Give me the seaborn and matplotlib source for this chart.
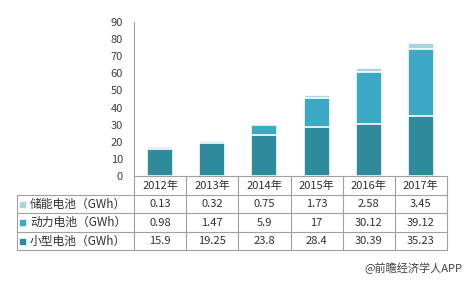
import matplotlib
matplotlib.use("Agg")
import matplotlib.pyplot as plt
import seaborn as sns
import pandas as pd
import numpy as np
from matplotlib.lines import Line2D
from matplotlib.patches import Rectangle

years = ["2012年", "2013年", "2014年", "2015年", "2016年", "2017年"]
storage = [0.13, 0.32, 0.75, 1.73, 2.58, 3.45]
power = [0.98, 1.47, 5.9, 17, 30.12, 39.12]
small = [15.9, 19.25, 23.8, 28.4, 30.39, 35.23]
storage_lbl = ["0.13", "0.32", "0.75", "1.73", "2.58", "3.45"]
power_lbl = ["0.98", "1.47", "5.9", "17", "30.12", "39.12"]
small_lbl = ["15.9", "19.25", "23.8", "28.4", "30.39", "35.23"]
series_names = ["储能电池（GWh）", "动力电池（GWh）", "小型电池（GWh）"]
yticks = [0, 10, 20, 30, 40, 50, 60, 70, 80, 90]

c_small = "#2F8A9C"
c_power = "#3BA9C3"
c_storage = "#A9D3DF"

sns.set_theme(style="white")
plt.rcParams['font.family'] = ['Noto Sans CJK SC', 'DejaVu Sans']

W, H = 470, 281
fig = plt.figure(figsize=(W / 100, H / 100), dpi=100)
fig.patch.set_facecolor("white")

x_left, x_right = 134, 447
y_zero, y_top = 176, 22
ax = fig.add_axes([x_left / W, 1 - y_zero / H, (x_right - x_left) / W, (y_zero - y_top) / H])

df = pd.DataFrame({
    "year": years,
    "s1": np.array(small),
    "s2": np.array(small) + np.array(power),
    "s3": np.array(small) + np.array(power) + np.array(storage),
})

for col, color in [("s3", c_storage), ("s2", c_power), ("s1", c_small)]:
    sns.barplot(data=df, x="year", y=col, color=color, width=0.5, ax=ax,
                edgecolor="white", linewidth=1.2, saturation=1)

ax.set_xlim(-0.5, 5.5)
ax.set_ylim(0, 90)
ax.set_yticks(yticks)
ax.set_yticklabels([str(t) for t in yticks], fontsize=8, color="#404040")
ax.tick_params(axis="y", length=0, pad=8)
ax.set_xticks([])
ax.set_xlabel("")
ax.set_ylabel("")
for s in ["top", "right", "bottom"]:
    ax.spines[s].set_visible(False)
ax.spines["left"].set_color("#A0A0A0")
ax.spines["left"].set_linewidth(0.8)

# data table (figure pixel coordinates)
def fx(px):
    return px / W

def fy(py):
    return 1 - py / H

grid = "#A0A0A0"
col_w = (x_right - x_left) / len(years)
row_edges = [176, 195, 213, 232, 250]
tbl_left = 17

def hline(x0, x1, y):
    fig.add_artist(Line2D([fx(x0), fx(x1)], [fy(y), fy(y)], color=grid, lw=0.8))

def vline(x, y0, y1):
    fig.add_artist(Line2D([fx(x), fx(x)], [fy(y0), fy(y1)], color=grid, lw=0.8))

hline(x_left, x_right, row_edges[0])
for y in row_edges[1:]:
    hline(tbl_left, x_right, y)
vline(tbl_left, row_edges[1], row_edges[-1])
for i in range(len(years) + 1):
    vline(x_left + i * col_w, row_edges[0], row_edges[-1])

for i, yr in enumerate(years):
    fig.text(fx(x_left + (i + 0.5) * col_w), fy((row_edges[0] + row_edges[1]) / 2),
             yr, ha="center", va="center", fontsize=8, color="#303030")

rows = [(series_names[0], storage_lbl, c_storage),
        (series_names[1], power_lbl, c_power),
        (series_names[2], small_lbl, c_small)]
for r, (name, labels, color) in enumerate(rows):
    yc = (row_edges[r + 1] + row_edges[r + 2]) / 2
    fig.add_artist(Rectangle((fx(20), fy(yc + 2.5)), 5 / W, 5 / H, color=color,
                             transform=fig.transFigure))
    fig.text(fx(30), fy(yc), name, ha="left", va="center", fontsize=8.5, color="#303030")
    for i, lab in enumerate(labels):
        fig.text(fx(x_left + (i + 0.5) * col_w), fy(yc), lab, ha="center", va="center",
                 fontsize=8, color="#303030")

fig.text(fx(462), fy(268), "@前瞻经济学人APP", ha="right", va="center",
         fontsize=8, color="#404040")

fig.savefig("out.png", dpi=100)
